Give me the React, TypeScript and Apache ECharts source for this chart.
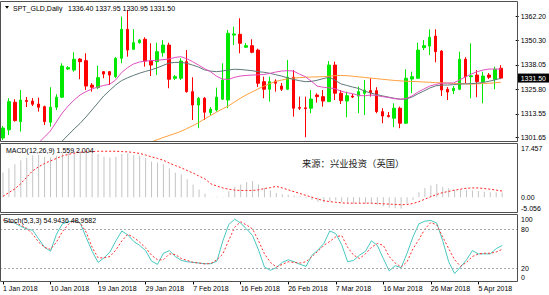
import React, { useEffect, useRef } from "react";
import * as echarts from "echarts";

const symbolName = "SPT_GLD";
const periodName = "Daily";
const sourceNote = "来源：兴业投资（英国）";

const dates = [
  "1 Jan 2018","2 Jan 2018","3 Jan 2018","4 Jan 2018","5 Jan 2018","7 Jan 2018","8 Jan 2018","9 Jan 2018",
  "10 Jan 2018","11 Jan 2018","12 Jan 2018","14 Jan 2018","15 Jan 2018","16 Jan 2018","17 Jan 2018","18 Jan 2018",
  "19 Jan 2018","21 Jan 2018","22 Jan 2018","23 Jan 2018","24 Jan 2018","25 Jan 2018","26 Jan 2018","28 Jan 2018",
  "29 Jan 2018","30 Jan 2018","31 Jan 2018","1 Feb 2018","2 Feb 2018","4 Feb 2018","5 Feb 2018","6 Feb 2018",
  "7 Feb 2018","8 Feb 2018","9 Feb 2018","11 Feb 2018","12 Feb 2018","13 Feb 2018","14 Feb 2018","15 Feb 2018",
  "16 Feb 2018","18 Feb 2018","19 Feb 2018","20 Feb 2018","21 Feb 2018","22 Feb 2018","23 Feb 2018","25 Feb 2018",
  "26 Feb 2018","27 Feb 2018","28 Feb 2018","1 Mar 2018","2 Mar 2018","4 Mar 2018","5 Mar 2018","6 Mar 2018",
  "7 Mar 2018","8 Mar 2018","9 Mar 2018","11 Mar 2018","12 Mar 2018","13 Mar 2018","14 Mar 2018","15 Mar 2018",
  "16 Mar 2018","18 Mar 2018","19 Mar 2018","20 Mar 2018","21 Mar 2018","22 Mar 2018","23 Mar 2018","25 Mar 2018",
  "26 Mar 2018","27 Mar 2018","28 Mar 2018","29 Mar 2018","1 Apr 2018","2 Apr 2018","3 Apr 2018","4 Apr 2018",
  "5 Apr 2018","6 Apr 2018","8 Apr 2018","9 Apr 2018","10 Apr 2018"
];
// empty slots to the right of the last bar
const emptySlots = [" ", "  "];

const open = [
  1301.5,1305.6,1319.4,1309.7,1320.3,1320.0,1318.5,1317.2,1309.4,1316.9,
  1321.9,1336.0,1335.5,1341.0,1340.2,1328.0,1326.7,1334.7,1334.7,1332.2,
  1341.4,1355.9,1345.9,1349.2,1350.9,1340.2,1339.7,1344.2,1348.0,1331.4,
  1331.4,1339.7,1324.7,1318.0,1321.4,1314.2,1315.5,1320.9,1320.5,1353.0,
  1353.4,1346.9,1347.7,1345.5,1329.7,1325.9,1330.0,1327.5,1325.9,1331.9,
  1316.8,1316.6,1316.4,1323.0,1322.2,1319.7,1338.0,1323.9,1320.0,1322.5,
  1322.5,1323.9,1325.2,1325.2,1314.7,1312.7,1311.4,1316.4,1308.9,1331.0,
  1331.4,1346.7,1347.5,1352.5,1345.0,1325.9,1325.2,1325.9,1340.9,1332.2,
  1333.0,1329.7,1333.0,1330.9,1336.4
];
const close = [
  1306.5,1319.7,1310.2,1320.5,1319.8,1318.4,1316.9,1309.7,1316.9,1321.9,
  1337.5,1336.7,1340.9,1339.7,1327.5,1326.9,1331.7,1333.5,1333.0,1341.4,
  1355.9,1345.5,1349.2,1350.5,1340.0,1338.0,1344.7,1348.0,1330.9,1332.2,
  1340.0,1324.7,1318.0,1321.4,1314.4,1315.9,1321.9,1330.5,1353.9,1353.6,
  1348.9,1347.7,1344.4,1328.9,1325.9,1329.7,1328.9,1325.9,1331.9,1316.4,
  1316.4,1316.2,1321.0,1322.2,1320.0,1338.0,1323.9,1320.2,1322.7,1322.0,
  1324.7,1325.5,1324.2,1314.7,1312.5,1312.2,1316.4,1308.9,1331.4,1332.2,
  1345.5,1347.7,1351.9,1344.7,1325.5,1324.5,1326.4,1340.9,1332.2,1332.6,
  1329.7,1332.5,1331.9,1335.9,1331.5
];
const low = [
  1300.5,1303.0,1309.7,1304.7,1317.0,1317.5,1314.7,1308.0,1307.2,1315.5,
  1321.5,1335.5,1334.7,1330.9,1325.5,1324.7,1326.0,1331.4,1328.0,1331.5,
  1338.9,1342.2,1345.5,1348.7,1337.2,1332.5,1333.0,1342.2,1326.4,1330.5,
  1330.5,1324.2,1310.5,1306.4,1310.5,1312.7,1314.7,1320.5,1316.4,1348.0,
  1343.9,1346.5,1343.9,1327.0,1321.4,1319.7,1324.7,1325.0,1325.5,1312.2,
  1315.5,1301.9,1313.9,1319.2,1317.2,1319.5,1320.5,1318.5,1311.9,1321.5,
  1313.9,1313.0,1322.2,1313.9,1308.9,1311.8,1306.9,1306.4,1308.5,1323.9,
  1331.0,1345.5,1343.0,1339.4,1322.5,1320.5,1323.5,1325.5,1328.9,1321.4,
  1321.9,1318.9,1331.0,1325.9,1330.95
];
const high = [
  1307.5,1321.4,1320.9,1325.5,1322.0,1321.5,1321.7,1317.7,1326.9,1323.4,
  1338.9,1337.5,1344.4,1341.5,1343.9,1329.0,1337.7,1335.0,1335.0,1342.0,
  1362.2,1365.5,1355.9,1351.0,1351.9,1348.9,1349.2,1350.5,1349.2,1333.0,
  1341.4,1345.5,1331.9,1322.0,1322.0,1317.0,1326.7,1338.9,1355.5,1357.2,
  1361.4,1349.0,1350.9,1346.2,1332.2,1332.2,1330.9,1329.0,1340.5,1335.5,
  1322.2,1322.2,1325.5,1323.9,1325.5,1340.0,1339.7,1325.5,1324.7,1323.5,
  1327.2,1330.5,1331.4,1326.9,1316.4,1314.5,1318.9,1317.2,1335.9,1334.7,
  1349.2,1350.5,1355.9,1355.9,1345.5,1327.0,1327.5,1344.7,1341.9,1348.9,
  1335.5,1334.7,1334.0,1337.2,1337.95
];

const maFast = [
  1281,1284,1287,1290,1293,1296,1299,1302,1305,1309.5,
  1314,1317.5,1320.5,1323,1324.7,1326,1327,1327.8,1328.4,1330.5,
  1334.2,1336.7,1338.5,1339.5,1340,1340.2,1340.4,1340.7,1341,1341.8,
  1342.2,1341.2,1339.7,1338,1336.2,1334.7,1332.5,1331,1330.8,1331.8,
  1332.5,1332.8,1333,1333.1,1333.3,1333.8,1334.5,1335,1335.2,1335,
  1333.5,1332.2,1330,1327.5,1326.9,1326.6,1326.2,1325,1324.2,1323.7,
  1322.8,1322.6,1323,1322.8,1322.2,1321.8,1321.2,1320.9,1321.2,1322.5,
  1324.5,1326,1327.5,1328.3,1328.9,1329,1329,1330.5,1332,1333.5,
  1334.7,1335.5,1336,1336,1336
];
const maMid = [
  1275,1277.5,1280,1282.5,1285,1287.5,1290,1292.5,1295,1297.5,
  1300,1303,1306,1308.8,1312,1315.5,1319,1322.5,1325.3,1328,
  1330.2,1331.6,1332.8,1333.9,1334.8,1335.6,1336.6,1337.8,1339,1339.3,
  1339.4,1338.9,1338,1337,1335.6,1335,1334.7,1335,1335.5,1335.9,
  1335.8,1335.5,1335.2,1334.7,1334.4,1333.9,1333.2,1332.5,1331.6,1330.8,
  1330.2,1329.7,1329.8,1330.4,1331.2,1331.9,1330.5,1328.6,1327.8,1327,
  1326.3,1325,1324,1323.3,1322.6,1322,1321.4,1320.9,1321,1322,
  1323.6,1325,1326.5,1327.6,1328,1328,1328.2,1328.5,1328.6,1328.7,
  1328.9,1329.3,1329.9,1330.6,1331.4
];
const maSlow = [
  1271.5,1272.6,1273.7,1274.8,1275.9,1277,1278.1,1279.2,1280.3,1281.4,
  1282.5,1283.6,1284.7,1285.8,1286.9,1288,1289.1,1290.2,1291.3,1292.4,
  1293.6,1294.8,1296,1297.2,1298.4,1299.5,1300.6,1301.7,1302.7,1303.7,
  1304.8,1306.2,1307.6,1309.2,1311,1312.7,1314.4,1316,1317.5,1319.4,
  1321.3,1323,1324.5,1326,1327.4,1328.7,1329.8,1330.5,1331.1,1331.5,
  1331.7,1331.9,1332,1332.1,1332.2,1332.4,1332.7,1332.8,1332.7,1332.4,
  1332.1,1331.8,1331.5,1331.2,1330.9,1330.6,1330.3,1330.1,1329.9,1329.8,
  1329.7,1329.5,1329.4,1329.2,1329.1,1329,1328.9,1328.7,1328.6,1328.5,
  1328.6,1328.8,1328.9,1329.1,1329.4
];

const macdMain = [
  8.0,9.3,10.6,11.9,12.8,13.5,13.6,13.0,12.8,13.3,
  14.1,14.4,14.8,14.8,14.7,14.4,13.9,13.0,12.8,13.0,
  13.9,14.1,13.6,13.4,12.6,11.5,11.2,10.6,9.3,7.9,
  7.4,5.8,4.1,2.5,1.1,0.05,0.2,-0.1,1.9,3.4,
  4.1,4.9,5.2,4.1,3.0,2.2,1.4,1.0,0.8,0.6,
  0.3,-0.3,-0.9,-1.4,-1.6,-1.2,-1.0,-1.5,-1.8,-2.0,
  -2.0,-2.1,-2.0,-2.4,-2.9,-3.3,-3.5,-3.6,-2.0,-0.9,
  1.6,3.0,3.8,4.3,3.4,2.9,2.4,2.5,2.4,2.2,
  2.0,1.8,1.6,1.6,1.559
];
const macdSignal = [
  0.3,1.5,2.7,4.4,6.5,8.5,9.8,10.9,11.7,12.5,
  13.3,13.8,14.2,14.5,14.6,14.7,14.8,14.8,14.8,14.8,
  14.7,14.6,14.4,14.1,13.6,13.0,12.5,11.9,11.0,10.2,
  9.5,8.6,7.8,6.8,5.9,4.3,3.6,3.0,2.6,2.3,
  2.2,2.2,2.2,2.4,2.8,3.1,3.5,3.0,2.4,1.8,
  1.2,0.6,0.0,-0.6,-1.1,-1.4,-1.6,-1.8,-1.9,-1.9,
  -1.9,-1.9,-1.9,-2.0,-2.1,-2.2,-2.3,-2.4,-2.3,-2.0,
  -1.4,-0.6,0.2,0.9,1.5,1.9,2.3,2.6,2.9,3.0,
  3.0,2.8,2.6,2.3,2.004
];

const stochK = [
  93,91,89,84,80,78,65,52,46,72,
  88,91,92,89,67,46,29,36,45,62,
  77,71,61,55,47,31,26,43,47,38,
  32,30,29,28,27,27,31,62,87,95,
  89,80,70,48,22,17,21,29,33,30,
  26,23,40,48,58,77,73,56,30,32,
  40,46,62,55,35,16,24,21,43,68,
  88,92,93,89,62,30,12,22,33,47,
  42,42,42,50,54.9436
];
const stochD = [
  94,91,90,86,81,72,60,52,49,60,
  76,87,93.5,89,75,52,36,36,38,48,
  62,72,67,60,51,40,33,33,42,41,
  35,32,29,28,26.6,27.5,33,42,63,83,
  91,86,80,62,42,29,22,26,30,29,
  28,30,38,46,55,61,68,70,52,40,
  35,42,52,58,55,38,28,22,30,50,
  64,80,90,86,68,50,33,23,29,38,
  42,43,43,45,48.9582
];

const priceTicks = [1301.65, 1313.55, 1325.8, 1338.05, 1350.3, 1362.2];
const priceRange = [1300, 1369.56];
const macdTicks = [-5.056, 0, 17.457];
const stochTicks = [0, 20, 80, 100];
const stochLevels = [20, 80];

const FONT = "'Liberation Sans',Arial,sans-serif";
const FS = 7;

export default function App() {
  const ref = useRef<HTMLDivElement>(null);

  useEffect(() => {
    if (!ref.current) return;
    const chart = echarts.init(ref.current, undefined, { renderer: "svg" });
    const categories = [...dates, ...emptySlots];
    const last = dates.length - 1;
    const grids = [
      { left: 0, right: 32, top: 2, height: 139 },
      { left: 0, right: 32, top: 143, height: 70 },
      { left: 0, right: 32, top: 215.9, height: 65.5 },
    ];
    const labelBase = { fontSize: FS, fontFamily: FONT, color: "#000" };

    const xAxes = grids.map((_, g) => ({
      type: "category",
      gridIndex: g,
      data: categories,
      boundaryGap: true,
      axisLine: { show: false },
      splitLine: { show: false },
      axisTick:
        g === 2
          ? { show: true, alignWithLabel: true, interval: 7, length: 3, lineStyle: { color: "#000" } }
          : { show: false },
      axisLabel:
        g === 2
          ? { show: true, interval: 7, align: "left", margin: 4, ...labelBase }
          : { show: false },
    }));

    const near = (a: number, b: number) => Math.abs(a - b) < 1e-6;
    const macdMin = macdTicks[0];
    const macdMax = macdTicks[macdTicks.length - 1];

    const option: any = {
      animation: false,
      backgroundColor: "#fff",
      grid: grids,
      xAxis: xAxes,
      yAxis: [
        {
          type: "value",
          gridIndex: 0,
          position: "right",
          min: priceRange[0],
          max: priceRange[1],
          axisLine: { show: false },
          splitLine: { show: false },
          axisTick: { show: true, customValues: priceTicks, length: 3, lineStyle: { color: "#000" } },
          axisLabel: { customValues: priceTicks, margin: 5, formatter: (v: number) => v.toFixed(2), ...labelBase },
        },
        {
          type: "value",
          gridIndex: 1,
          position: "right",
          min: macdMin,
          max: macdMax,
          axisLine: { show: false },
          splitLine: { show: false },
          axisTick: { show: false },
          axisLabel: {
            customValues: macdTicks,
            margin: 4,
            ...labelBase,
            formatter: (v: number) =>
              near(v, macdMax) ? `{t|${v.toFixed(3)}}` : near(v, macdMin) ? `{b|${v.toFixed(3)}}` : v.toFixed(2),
            rich: {
              t: { ...labelBase, padding: [10, 0, 0, 0] },
              b: { ...labelBase, padding: [0, 0, 10, 0] },
            },
          },
        },
        {
          type: "value",
          gridIndex: 2,
          position: "right",
          min: 0,
          max: 100,
          axisLine: { show: false },
          splitLine: { show: false },
          axisTick: { show: false },
          axisLabel: {
            customValues: stochTicks,
            margin: 4,
            ...labelBase,
            formatter: (v: number) => (v === 100 ? `{t|${v}}` : v === 0 ? `{b|${v}}` : String(v)),
            rich: {
              t: { ...labelBase, padding: [7, 0, 0, 0] },
              b: { ...labelBase, padding: [0, 0, 8, 0] },
            },
          },
        },
      ],
      series: [
        {
          type: "candlestick",
          xAxisIndex: 0,
          yAxisIndex: 0,
          barWidth: 3,
          data: open.map((o, i) => [o, close[i], low[i], high[i]]),
          itemStyle: {
            color: "#00e800",
            color0: "#ff0000",
            borderColor: "#00e800",
            borderColor0: "#ff0000",
            borderWidth: 1,
          },
          markLine: {
            silent: true,
            symbol: "none",
            lineStyle: { color: "rgba(0,0,0,0)", width: 0 },
            label: {
              show: true,
              position: "end",
              distance: 2,
              formatter: () => close[last].toFixed(2),
              backgroundColor: "#000",
              color: "#fff",
              fontSize: FS,
              fontFamily: FONT,
              padding: [1, 3, 1, 3],
            },
            data: [{ yAxis: close[last] }],
          },
        },
        {
          type: "line", xAxisIndex: 0, yAxisIndex: 0, data: maSlow, showSymbol: false,
          lineStyle: { color: "#ffa040", width: 1 },
        },
        {
          type: "line", xAxisIndex: 0, yAxisIndex: 0, data: maMid, showSymbol: false,
          lineStyle: { color: "#5f7878", width: 1 },
        },
        {
          type: "line", xAxisIndex: 0, yAxisIndex: 0, data: maFast, showSymbol: false,
          lineStyle: { color: "#e050c0", width: 1 },
        },
        {
          type: "bar", xAxisIndex: 1, yAxisIndex: 1, data: macdMain, barWidth: 1,
          itemStyle: { color: "#c4c4c4" },
        },
        {
          type: "line", xAxisIndex: 1, yAxisIndex: 1, data: macdSignal, showSymbol: false,
          lineStyle: { color: "#ff2020", width: 1, type: [2, 2] },
        },
        {
          type: "line", xAxisIndex: 2, yAxisIndex: 2, data: stochK, showSymbol: false,
          lineStyle: { color: "#48c8c0", width: 1 },
          markLine: {
            silent: true,
            symbol: "none",
            label: { show: false },
            lineStyle: { color: "#a8a8a8", width: 1, type: [2, 2] },
            data: stochLevels.map((v) => ({ yAxis: v })),
          },
        },
        {
          type: "line", xAxisIndex: 2, yAxisIndex: 2, data: stochD, showSymbol: false,
          lineStyle: { color: "#ff3030", width: 1, type: [2, 2] },
        },
      ],
      graphic: [
        { type: "rect", silent: true, z: 50, shape: { x: 0.5, y: 1.5, width: 517, height: 140 }, style: { fill: "none", stroke: "#505050", lineWidth: 1 } },
        { type: "rect", silent: true, z: 50, shape: { x: 0.5, y: 143.5, width: 517, height: 69 }, style: { fill: "none", stroke: "#505050", lineWidth: 1 } },
        { type: "rect", silent: true, z: 50, shape: { x: 0.5, y: 214.5, width: 517, height: 67 }, style: { fill: "none", stroke: "#505050", lineWidth: 1 } },
        { type: "polygon", silent: true, z: 60, shape: { points: [[5, 6], [9, 6], [7, 8.8]] }, style: { fill: "#000" } },
        {
          type: "text", silent: true, z: 60, x: 13, y: 8,
          style: { text: `${symbolName},${periodName}`, fontSize: FS, fontFamily: FONT, fill: "#000", verticalAlign: "middle" },
        },
        {
          type: "text", silent: true, z: 60, x: 68, y: 8,
          style: {
            text: [open[last], high[last], low[last], close[last]].map((v) => v.toFixed(2)).join(" "),
            fontSize: FS, fontFamily: FONT, fill: "#000", verticalAlign: "middle",
          },
        },
        {
          type: "text", silent: true, z: 60, x: 6, y: 150.5,
          style: {
            text: `MACD(12,26,9) ${macdMain[last].toFixed(3)} ${macdSignal[last].toFixed(3)}`,
            fontSize: FS, fontFamily: FONT, fill: "#000", verticalAlign: "middle",
          },
        },
        {
          type: "text", silent: true, z: 60, x: 3.5, y: 220.5,
          style: {
            text: `Stoch(5,3,3) ${stochK[last].toFixed(4)} ${stochD[last].toFixed(4)}`,
            fontSize: FS, fontFamily: FONT, fill: "#000", verticalAlign: "middle",
          },
        },
        {
          type: "text", silent: true, z: 60, x: 302, y: 163,
          style: { text: sourceNote, fontSize: 9.3, fontFamily: "'Noto Sans CJK SC', sans-serif", fill: "#222", verticalAlign: "middle" },
        },
      ],
    };
    chart.setOption(option);
    return () => chart.dispose();
  }, []);

  return (
    <div
      ref={ref}
      style={{ position: "fixed", left: 0, top: 0, width: 549, height: 295, background: "#fff" }}
    />
  );
}
